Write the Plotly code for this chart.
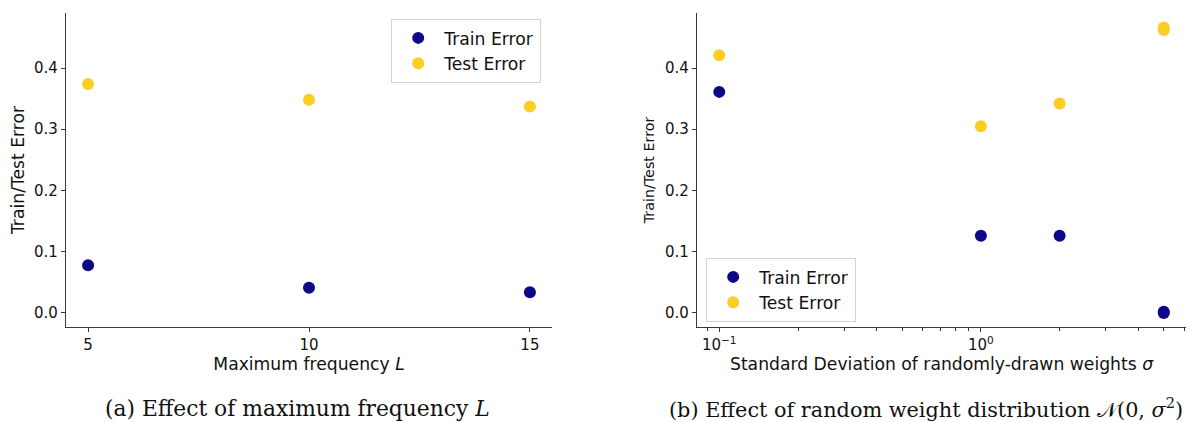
import plotly.graph_objects as go

# Panel (a): error vs. maximum frequency L
freq_L = [5, 10, 15]
train_err_L = [0.078, 0.041, 0.034]
test_err_L = [0.374, 0.348, 0.337]

# Panel (b): error vs. std. dev. of random weights (log x)
sigma = [0.1, 1, 2, 5, 5]
train_err_sigma = [0.361, 0.126, 0.126, 0.000, 0.002]
test_err_sigma = [0.421, 0.305, 0.342, 0.462, 0.466]

y_ticks = [0.0, 0.1, 0.2, 0.3, 0.4]
x_ticks_L = [5, 10, 15]
x_ticks_sigma = [0.1, 1]
x_ticktext_sigma = ["10<sup>\u22121</sup>", "10<sup>0</sup>"]
sigma_minor = [0.09, 0.2, 0.3, 0.4, 0.5, 0.6, 0.7, 0.8, 0.9, 2, 3, 4, 5, 6]

NAVY = "#0d0887"
YELLOW = "#fccd25"
SPINE = "#3a3a3a"
TICKFONT = dict(family="DejaVu Sans", size=15, color="#111")
LABEL_SIZE = 17.2

fig = go.Figure()

fig.add_trace(go.Scatter(x=freq_L, y=train_err_L, mode="markers", name="Train Error",
                         marker=dict(color=NAVY, size=12), xaxis="x", yaxis="y", legend="legend"))
fig.add_trace(go.Scatter(x=freq_L, y=test_err_L, mode="markers", name="Test Error",
                         marker=dict(color=YELLOW, size=12), xaxis="x", yaxis="y", legend="legend"))
fig.add_trace(go.Scatter(x=sigma, y=train_err_sigma, mode="markers", name="Train Error",
                         marker=dict(color=NAVY, size=12), xaxis="x2", yaxis="y2", legend="legend2"))
fig.add_trace(go.Scatter(x=sigma, y=test_err_sigma, mode="markers", name="Test Error",
                         marker=dict(color=YELLOW, size=12), xaxis="x2", yaxis="y2", legend="legend2"))

W, H = 1196, 422
y_dom = [1 - 327 / H, 1 - 13 / H]
y_range = [-0.0229, 0.4898]

axis_common = dict(showline=True, linecolor=SPINE, linewidth=1.3, ticks="outside",
                   ticklen=4, tickwidth=1.1, tickcolor=SPINE, showgrid=False,
                   zeroline=False, tickfont=TICKFONT, mirror=False)

legend_common = dict(xanchor="left", yanchor="top", bgcolor="white",
                     bordercolor="#d4d4d4", borderwidth=1.2, itemwidth=42,
                     font=dict(family="DejaVu Sans", size=LABEL_SIZE, color="#111"),
                     itemsizing="constant", tracegroupgap=2)

fig.update_layout(
    width=W, height=H,
    margin=dict(l=0, r=0, t=0, b=0),
    paper_bgcolor="white", plot_bgcolor="white",
    font=dict(family="DejaVu Sans", color="#111"),
    xaxis=dict(domain=[66 / W, 552 / W], range=[4.5, 15.5], tickvals=x_ticks_L,
               anchor="y",
               title=dict(text="Maximum frequency <i>L</i>", font=dict(size=LABEL_SIZE), standoff=4),
               **axis_common),
    yaxis=dict(domain=y_dom, range=y_range, tickvals=y_ticks, tickformat=".1f",
               anchor="x",
               title=dict(text="Train/Test Error", font=dict(size=LABEL_SIZE), standoff=4),
               **axis_common),
    xaxis2=dict(domain=[697 / W, 1186 / W], type="log", range=[-1.085, 0.784],
                tickvals=x_ticks_sigma, ticktext=x_ticktext_sigma, anchor="y2",
                minor=dict(tickvals=sigma_minor, ticks="outside", ticklen=2.5,
                           tickcolor=SPINE, tickwidth=0.9),
                title=dict(text="Standard Deviation of randomly-drawn weights <i>σ</i>",
                           font=dict(size=LABEL_SIZE), standoff=4),
                **axis_common),
    yaxis2=dict(domain=y_dom, range=y_range, tickvals=y_ticks, tickformat=".1f",
                anchor="x2",
                title=dict(text="Train/Test Error", font=dict(size=14.3), standoff=6),
                **axis_common),
    legend=dict(x=391 / W, y=1 - 19 / H, **legend_common),
    legend2=dict(x=706 / W, y=1 - 258 / H, **legend_common),
    showlegend=True,
)

CAPTION_FONT_A = dict(family="DejaVu Serif", size=21.8, color="#111")
CAPTION_FONT_B = dict(family="DejaVu Serif", size=20.8, color="#111")
fig.add_annotation(text="(a) Effect of maximum frequency <i>L</i>", x=297 / W, y=1 - 408 / H,
                   xref="paper", yref="paper", showarrow=False, font=CAPTION_FONT_A,
                   xanchor="center", yanchor="middle")
fig.add_annotation(text="(b) Effect of random weight distribution 𝒩(0, <i>σ</i><sup>2</sup>)",
                   x=926 / W, y=1 - 408 / H,
                   xref="paper", yref="paper", showarrow=False, font=CAPTION_FONT_B,
                   xanchor="center", yanchor="middle")

fig.write_html("out.html")
